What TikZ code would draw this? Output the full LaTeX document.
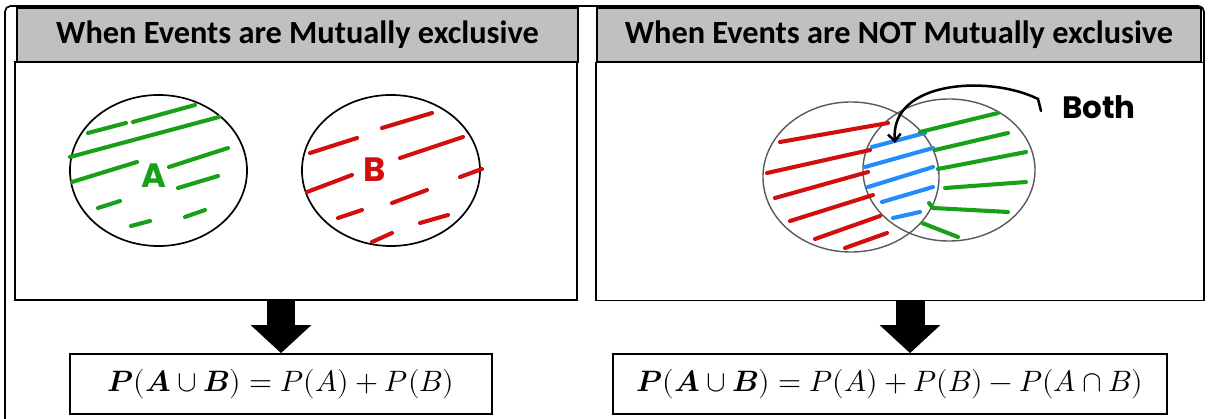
\documentclass[tikz,border=0pt]{standalone}
\usepackage{fontspec}
\usepackage{unicode-math}
\setmathfont{Latin Modern Math}
\newfontfamily\headfont{Carlito}
\newfontfamily\handfont{Poppins}
\usetikzlibrary{arrows.meta, shapes.geometric}

\definecolor{headgray}{RGB}{192,192,192}
\definecolor{penred}{RGB}{210,15,15}
\definecolor{pengreen}{RGB}{25,160,25}
\definecolor{penblue}{RGB}{35,140,250}

\begin{document}
\begin{tikzpicture}[x=0.025cm, y=-0.025cm, line width=1.2pt,
    header/.style={draw, fill=headgray, minimum height=1.35cm, inner sep=0pt,
        font=\headfont\bfseries\fontsize{23}{27}\selectfont},
    panel/.style={draw, minimum height=5.95cm, inner sep=0pt},
    formula/.style={draw, minimum height=1.5cm, inner sep=0pt,
        font=\fontsize{21}{25}\selectfont},
    event/.style={draw, ellipse, inner sep=0pt},
    hatchline/.style={line width=2.9pt, line cap=round, line join=round},
    blockarrow/.style={line width=20.6pt, -{Triangle[length=20pt 0, width=42pt 0]}},
    handlabel/.style={font=\handfont\bfseries\fontsize{24}{28}\selectfont}]
    \useasboundingbox (0,0) rectangle (1210,419);

    % Marco
    \draw[rounded corners=4pt] (5,419) |- (1204,6) -- (1204,62);

    % Cajas
    \node[panel, minimum width=14.05cm] (lbox) at (296,181) {};
    \node[panel, minimum width=15.2cm] (rbox) at (900,181.5) {};
    \node[header, minimum width=14.025cm] (lhead) at (297.5,35) {When Events are Mutually exclusive};
    \node[header, minimum width=15.1cm] (rhead) at (899,35) {When Events are NOT Mutually exclusive};

    % Formulas
    \node[formula, minimum width=10.55cm] (lform) at (281,384)
        {$\symbfit{P}(\symbfit{A}\cup\symbfit{B}) = P(A) + P(B)$};
    \node[formula, minimum width=13.85cm] (rform) at (890,384)
        {$\symbfit{P}(\symbfit{A}\cup\symbfit{B}) = P(A) + P(B) - P(A\cap B)$};

    % Flechas
    \draw[blockarrow] (lbox.south -| lform.north) -- (lform.north);
    \draw[blockarrow] ([xshift=0.5cm]rbox.south -| rform.north) -- ([xshift=0.5cm]rform.north);

    % Eventos disjuntos
    \node[event, minimum width=4.425cm, minimum height=3.775cm] (evA) at (158.5,170.5) {};
    \node[event, minimum width=4.45cm, minimum height=3.775cm] (evB) at (391,170.5) {};
    \foreach \xa/\ya/\xb/\yb in {88/133/126/123, 133/122/195/105, 70/157/219/117,
        72/182/137/162, 169/167/228/148, 178/188/218/176, 98/208/120/201,
        185/217/205/210, 131/226/150/221}
        \draw[hatchline, pengreen] (\xa,\ya) -- (\xb,\yb);
    \foreach \xa/\ya/\xb/\yb in {382/128/432/113, 310/153/357/138, 400/158/463/137,
        307/192/352/175, 460/177/482/169, 392/203/427/190, 338/218/362/210,
        420/223/448/215, 372/242/392/233}
        \draw[hatchline, penred] (\xa,\ya) -- (\xb,\yb);
    \node[handlabel, pengreen] (labA) at (154,176) {A};
    \node[handlabel, penred] (labB) at (375,170) {B};

    % Eventos con interseccion
    \node[event, draw=black!65, line width=1pt, minimum width=4.4cm, minimum height=3.75cm] (evC) at (851,177) {};
    \node[event, draw=black!65, line width=1pt, minimum width=4.3cm, minimum height=3.55cm] (evD) at (949,170) {};
    \foreach \xa/\ya/\xb/\yb in {780/142/888/123, 767/173/870/150, 775/198/868/172,
        790/221/873/195, 815/239/880/216, 845/248/887/233}
        \draw[hatchline, penred] (\xa,\ya) -- (\xb,\yb);
    \foreach \xa/\ya/\xb/\yb in {872/147/925/133, 865/167/933/148, 868/187/933/167,
        882/202/933/187, 893/218/920/212}
        \draw[hatchline, penblue] (\xa,\ya) -- (\xb,\yb);
    \foreach \xa/\ya/\xb/\yb in {920/132/998/113, 935/150/1008/133, 938/169/1026/152,
        945/188/1026/182, 922/223/958/237}
        \draw[hatchline, pengreen] (\xa,\ya) -- (\xb,\yb);
    \draw[hatchline, pengreen] (929,203) -- (933,208) -- (1008,212);

    % Etiqueta
    \node[handlabel, font=\handfont\bfseries\fontsize{22}{26}\selectfont] (both) at (1099,107) {Both};
    \coordinate (hook) at (1041,111);
    \coordinate (overlap) at (895,143);
    \draw[line width=1.8pt, line cap=round, -{Straight Barb[length=5pt, width=9pt]}]
        (hook) -- (1038,99) .. controls (990,75) and (890,80) .. (overlap);
\end{tikzpicture}
\end{document}
